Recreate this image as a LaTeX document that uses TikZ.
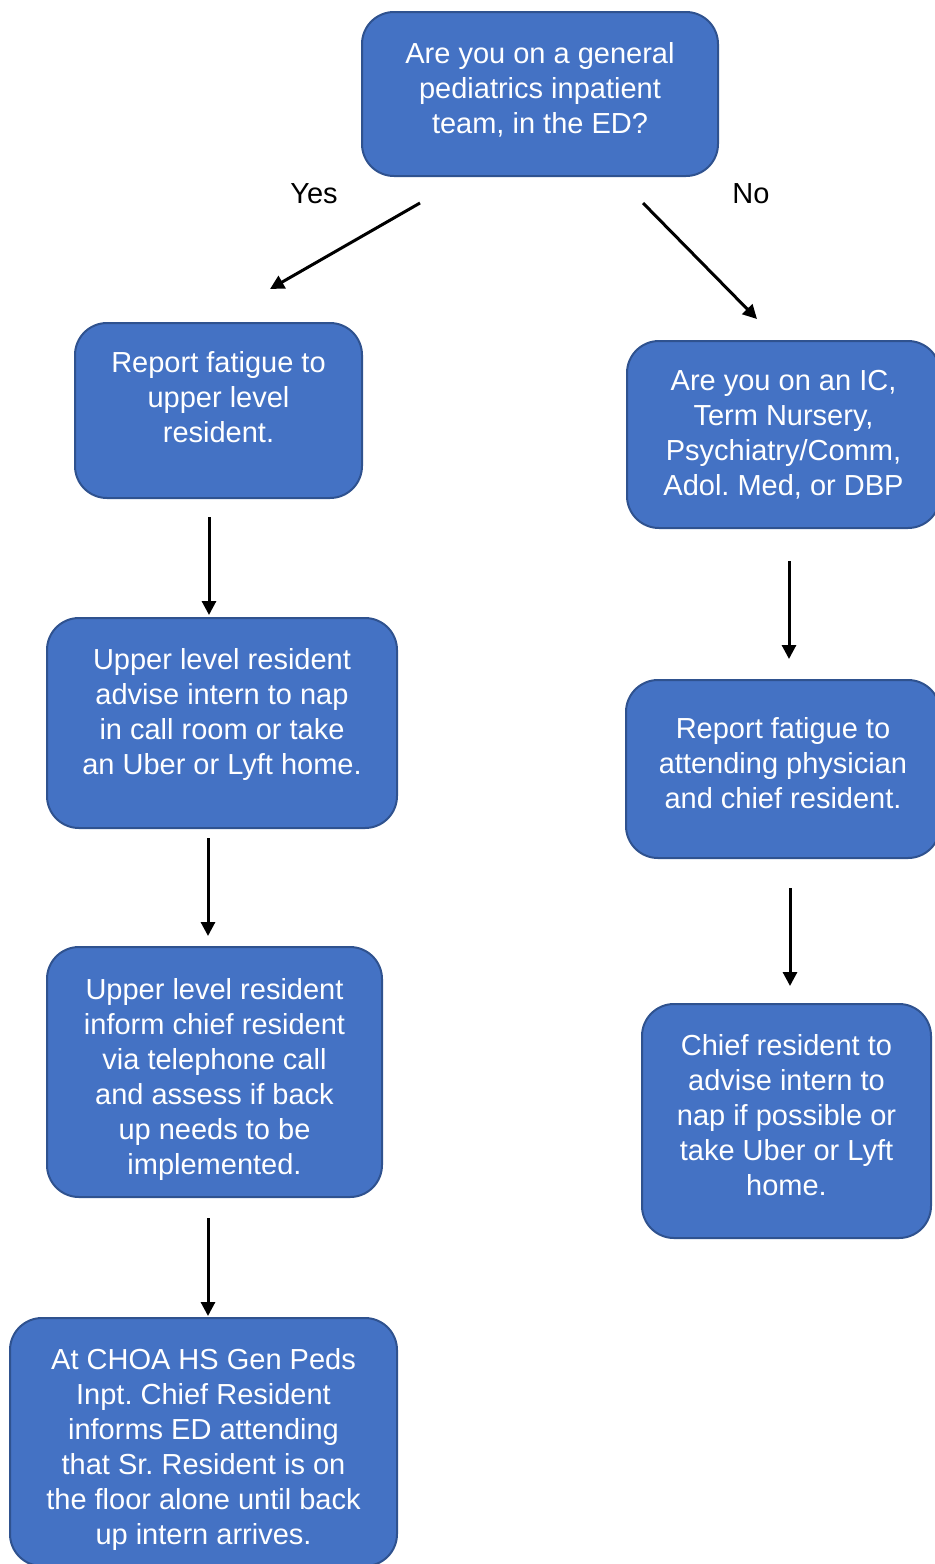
\documentclass[tikz,border=0pt]{standalone}
\usepackage{fontspec}
\setmainfont{Liberation Sans}
\usetikzlibrary{arrows.meta,calc}
\frenchspacing

\definecolor{boxfill}{RGB}{68,114,196}
\definecolor{boxline}{RGB}{47,82,143}

\tikzset{
  box/.style={draw=boxline, line width=1pt, fill=boxfill, rounded corners=16pt,
    text=white, align=center, inner sep=0pt,
    font=\fontsize{14.5}{17.5}\selectfont},
  arr/.style={-{Triangle[length=7pt,width=7pt]}, line width=1.5pt, black},
  lbl/.style={font=\fontsize{14.5}{17.5}\selectfont}
}

\begin{document}
\begin{tikzpicture}[x=0.5pt,y=0.5pt,yscale=-1,xscale=1]
    \useasboundingbox (0,0) rectangle (935,1564);

    %Shape: Rounded Rect [top]
    \node[box, minimum width=178pt, minimum height=82pt] (top) at (540,94)
      {Are you on a general\\ pediatrics inpatient\\ team, in the ED?\\[-11.5pt]};

    %Shape: Rounded Rect [left column]
    \node[box, minimum width=143.5pt, minimum height=87.5pt] (rptUpper) at (218.5,410.5)
      {Report fatigue to\\ upper level\\ resident.\\[-4pt]};
    \node[box, minimum width=175pt, minimum height=105pt] (advNap) at (222,723)
      {Upper level resident\\ advise intern to nap\\ in call room or take\\ an Uber or Lyft home.\\[-5.5pt]};
    \node[box, minimum width=167.5pt, minimum height=125pt] (infChief) at (214.5,1072)
      {Upper level resident\\ inform chief resident\\ via telephone call\\ and assess if back\\ up needs to be\\ implemented.\\[-21.5pt]};
    \node[box, minimum width=193.5pt, minimum height=124pt] (choa) at (203.5,1442)
      {At CHOA HS Gen Peds\\ Inpt. Chief Resident\\ informs ED attending\\ that Sr. Resident is on\\ the floor alone until back\\ up intern arrives.\\[-22pt]};

    %Shape: Rounded Rect [right column]
    \node[box, minimum width=156.5pt, minimum height=93.5pt] (icTeam) at (783.5,434.5)
      {Are you on an IC,\\ Term Nursery,\\ Psychiatry/Comm,\\ Adol. Med, or DBP};
    \node[box, minimum width=157pt, minimum height=89pt] (rptAttend) at (783,769)
      {Report fatigue to\\ attending physician\\ and chief resident.\\[-11.5pt]};
    \node[box, minimum width=144.5pt, minimum height=117pt] (chiefNap) at (786.5,1121)
      {Chief resident to\\ advise intern to\\ nap if possible or\\ take Uber or Lyft\\ home.\\[-11.5pt]};

    % Text Node
    \node[lbl] (yes) at (314,194) {Yes};
    % Text Node
    \node[lbl] (no) at (751,194) {No};

    % Arrows
    \draw[arr] ($(top.south west)+(59,26)$) -- ($(rptUpper.north)+(51.5,-33)$);
    \draw[arr] ($(top.south east)+(-76,26)$) -- ($(icTeam.north)+(-26.5,-21)$);
    \draw[arr] ($(rptUpper.south)+(-9.5,18)$) -- ($(advNap.north)+(-13,-2)$);
    \draw[arr] ($(advNap.south)+(-14,9)$) -- ($(infChief.north)+(-6.5,-10)$);
    \draw[arr] ($(infChief.south)+(-6.5,20)$) -- ($(choa.north)+(4.5,-1)$);
    \draw[arr] ($(icTeam.south)+(5.5,32)$) -- ($(rptAttend.north)+(6,-20)$);
    \draw[arr] ($(rptAttend.south)+(7,29)$) -- ($(chiefNap.north)+(3.5,-17)$);
\end{tikzpicture}
\end{document}
